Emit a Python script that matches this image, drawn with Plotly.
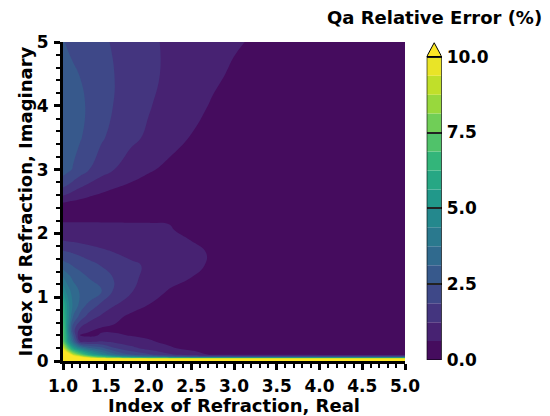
import plotly.graph_objects as go
from plotly.colors import hex_to_rgb

# Complex refractive index grid (real part along x, imaginary part along y)
n_real = [1.0, 1.03, 1.07, 1.12, 1.2, 1.3, 1.45, 1.6, 1.8, 2.0, 2.25, 2.5, 2.75, 3.0, 3.5, 4.0, 5.0]
n_imag = [0.0, 0.03, 0.06, 0.1, 0.15, 0.2, 0.3, 0.4, 0.5, 0.7, 0.9, 1.1, 1.3, 1.5, 1.7,
          1.9, 2.05, 2.15, 2.25, 2.4, 2.5, 2.6, 2.8, 3.0, 3.5, 4.0, 4.5, 5.0]

# Relative error of Qa (%), one row per imaginary-part value
qa_rel_err = [
    [20, 19, 18, 17, 16, 15, 15, 15, 15, 15, 15, 15, 15, 15, 15, 15, 15],
    [18, 17, 15.5, 14, 13, 12.5, 12, 11.8, 11.6, 11.5, 11.5, 11.5, 11.5, 11.5, 11.5, 11.5, 11.5],
    [15.5, 14.5, 13, 11.5, 10.2, 8.8, 7.4, 6.2, 5.0, 4.3, 3.6, 3.2, 3.0, 3.0, 3.0, 3.0, 3.0],
    [12.8, 12.0, 10.8, 9.0, 7.6, 6.0, 4.6, 3.4, 2.5, 2.0, 1.35, 0.9, 0.55, 0.42, 0.38, 0.36, 0.35],
    [11.0, 10.0, 8.6, 7.2, 6.0, 4.8, 3.6, 2.6, 1.9, 1.45, 1.0, 0.7, 0.4, 0.26, 0.2, 0.18, 0.16],
    [9.6, 8.5, 7.0, 5.6, 4.3, 3.3, 2.7, 1.95, 1.4, 1.05, 0.72, 0.42, 0.25, 0.17, 0.13, 0.11, 0.1],
    [7.6, 6.6, 5.0, 3.4, 1.3, 1.2, 1.3, 1.15, 0.95, 0.72, 0.45, 0.25, 0.14, 0.1, 0.07, 0.06, 0.05],
    [7.2, 6.3, 4.4, 2.6, 0.55, 0.5, 0.68, 0.7, 0.6, 0.5, 0.3, 0.17, 0.1, 0.07, 0.05, 0.04, 0.03],
    [7.1, 6.1, 3.9, 2.1, 1.15, 0.75, 0.55, 0.52, 0.45, 0.35, 0.22, 0.13, 0.08, 0.06, 0.04, 0.03, 0.02],
    [6.7, 5.7, 4.4, 3.1, 2.3, 1.65, 1.15, 0.8, 0.5, 0.35, 0.22, 0.15, 0.1, 0.08, 0.05, 0.04, 0.03],
    [6.2, 5.3, 4.4, 3.6, 3.0, 2.45, 1.8, 1.35, 0.95, 0.65, 0.4, 0.25, 0.16, 0.11, 0.07, 0.05, 0.04],
    [5.0, 4.4, 3.9, 3.45, 3.05, 2.75, 2.52, 1.78, 1.3, 0.9, 0.58, 0.37, 0.24, 0.16, 0.1, 0.07, 0.05],
    [3.85, 3.55, 3.3, 3.0, 2.75, 2.5, 2.1, 1.85, 1.4, 1.05, 0.8, 0.62, 0.45, 0.32, 0.18, 0.12, 0.08],
    [2.8, 2.7, 2.6, 2.45, 2.3, 2.1, 1.85, 1.6, 1.38, 1.15, 0.9, 0.7, 0.58, 0.42, 0.25, 0.15, 0.1],
    [2.0, 1.95, 1.9, 1.83, 1.72, 1.58, 1.4, 1.25, 1.05, 0.9, 0.78, 0.68, 0.6, 0.45, 0.27, 0.16, 0.1],
    [1.2, 1.18, 1.15, 1.12, 1.08, 1.02, 0.95, 0.88, 0.8, 0.74, 0.68, 0.62, 0.5, 0.38, 0.22, 0.14, 0.09],
    [0.85, 0.85, 0.84, 0.83, 0.81, 0.79, 0.76, 0.73, 0.7, 0.67, 0.66, 0.5, 0.38, 0.28, 0.17, 0.11, 0.07],
    [0.7, 0.7, 0.7, 0.7, 0.7, 0.7, 0.7, 0.7, 0.69, 0.68, 0.62, 0.45, 0.33, 0.25, 0.15, 0.09, 0.06],
    [0.4, 0.4, 0.4, 0.4, 0.39, 0.38, 0.37, 0.36, 0.34, 0.32, 0.28, 0.22, 0.17, 0.13, 0.08, 0.05, 0.04],
    [0.35, 0.34, 0.32, 0.3, 0.27, 0.24, 0.2, 0.17, 0.14, 0.11, 0.08, 0.06, 0.05, 0.04, 0.03, 0.02, 0.02],
    [0.68, 0.66, 0.62, 0.58, 0.5, 0.43, 0.35, 0.28, 0.22, 0.17, 0.12, 0.09, 0.07, 0.05, 0.03, 0.02, 0.02],
    [1.3, 1.24, 1.15, 1.02, 0.85, 0.7, 0.55, 0.44, 0.33, 0.25, 0.17, 0.12, 0.09, 0.07, 0.04, 0.03, 0.02],
    [2.25, 2.15, 2.0, 1.8, 1.55, 1.3, 1.0, 0.8, 0.62, 0.45, 0.3, 0.2, 0.14, 0.1, 0.06, 0.04, 0.03],
    [2.75, 2.7, 2.6, 2.45, 2.2, 1.9, 1.55, 1.25, 0.95, 0.7, 0.48, 0.32, 0.22, 0.16, 0.1, 0.06, 0.04],
    [3.0, 2.95, 2.85, 2.72, 2.55, 2.3, 1.95, 1.68, 1.38, 1.15, 0.85, 0.6, 0.42, 0.3, 0.18, 0.11, 0.06],
    [3.05, 3.0, 2.92, 2.8, 2.62, 2.42, 2.1, 1.85, 1.55, 1.3, 1.0, 0.78, 0.58, 0.45, 0.28, 0.18, 0.1],
    [2.85, 2.8, 2.72, 2.62, 2.48, 2.32, 2.08, 1.88, 1.62, 1.4, 1.12, 0.9, 0.72, 0.56, 0.36, 0.24, 0.13],
    [2.55, 2.48, 2.38, 2.28, 2.15, 2.02, 1.95, 1.83, 1.52, 1.36, 1.15, 0.95, 0.78, 0.68, 0.46, 0.29, 0.16],
]

# Contour levels and colorbar ticks
level_start = 0.0
level_end = 10.0
level_step = 0.625
cbar_ticks = [0.0, 2.5, 5.0, 7.5, 10.0]

VIRIDIS = ['#440154', '#482878', '#3e4989', '#31688e', '#26828e',
           '#1f9e89', '#35b779', '#6ece58', '#b5de2b', '#fde725']


def viridis(t):
    pos = t * (len(VIRIDIS) - 1)
    i = min(int(pos), len(VIRIDIS) - 2)
    f = pos - i
    a = hex_to_rgb(VIRIDIS[i])
    b = hex_to_rgb(VIRIDIS[i + 1])
    return 'rgb(%d,%d,%d)' % tuple(round(a[j] + (b[j] - a[j]) * f) for j in range(3))


n_bands = round((level_end - level_start) / level_step)
band_colors = [viridis((k + 0.5) / n_bands) for k in range(n_bands)]
over_color = viridis(1.0)
fill_colors = band_colors + [over_color]
# plotly samples the colorscale at (k+1)/(n_levels) for the band above level k
colorscale = [[0.0, fill_colors[0]]] + [[(k + 1) / len(fill_colors), c] for k, c in enumerate(fill_colors)]

band_bases = [level_start + k * level_step for k in range(n_bands)]

FONT = dict(family='DejaVu Sans', size=17, color='black', weight='bold')
TITLE_FONT = dict(family='DejaVu Sans', size=18, color='black', weight='bold')

fig = go.Figure()

fig.add_trace(go.Contour(
    x=n_real, y=n_imag, z=qa_rel_err,
    autocontour=False,
    contours=dict(start=level_start, end=level_end, size=level_step,
                  coloring='fill', showlines=False),
    colorscale=colorscale, showscale=False,
    line=dict(width=0, smoothing=1.3),
    hoverinfo='skip',
))

# colorbar drawn as stacked bands on its own axes
fig.add_trace(go.Bar(
    x=[0] * n_bands, y=[level_step] * n_bands, base=band_bases,
    width=1, marker=dict(color=band_colors, line=dict(width=0)),
    xaxis='x2', yaxis='y2', hoverinfo='skip', showlegend=False,
))
fig.add_trace(go.Scatter(
    x=[-0.5, 0, 0.5, -0.5], y=[level_end, 10.46, level_end, level_end],
    mode='lines', fill='toself', fillcolor=over_color,
    line=dict(color='black', width=1),
    xaxis='x2', yaxis='y2', hoverinfo='skip', showlegend=False,
))

PLOT_W = 550 - 63 - 8
x_dom = [0, 342 / PLOT_W]
main_common = dict(showgrid=False, zeroline=False, tickcolor='black')

fig.update_layout(
    width=550, height=416,
    margin=dict(l=63, r=8, t=42, b=55, autoexpand=False),
    paper_bgcolor='white', plot_bgcolor='white',
    showlegend=False,
    xaxis=dict(domain=x_dom, range=[1, 5], anchor='y', tick0=1, dtick=0.5, tickformat='.1f',
               ticks='outside', ticklen=6, tickwidth=3, showline=True, linewidth=3,
               linecolor='black', tickfont=FONT, ticklabelstandoff=2,
               minor=dict(dtick=0.1, tick0=1, ticks='outside', ticklen=4, tickwidth=2,
                          tickcolor='black'),
               **main_common),
    yaxis=dict(domain=[0, 1], range=[0, 5], anchor='x', tick0=0, dtick=1,
               ticks='outside', ticklen=6, tickwidth=3, showline=True, linewidth=3,
               linecolor='black', tickfont=FONT, ticklabelstandoff=2,
               minor=dict(dtick=0.2, tick0=0, ticks='outside', ticklen=4, tickwidth=2,
                          tickcolor='black'),
               **main_common),
    xaxis3=dict(domain=x_dom, range=[1, 5], anchor='y', overlaying='x', side='bottom',
                tick0=1, dtick=0.5, ticks='inside', ticklen=6, tickwidth=3,
                showticklabels=False, showline=False,
                minor=dict(dtick=0.1, tick0=1, ticks='inside', ticklen=4, tickwidth=2,
                           tickcolor='black'),
                **main_common),
    yaxis3=dict(domain=[0, 1], range=[0, 5], anchor='x', overlaying='y', side='left',
                tick0=0, dtick=1, ticks='inside', ticklen=6, tickwidth=3,
                showticklabels=False, showline=False,
                minor=dict(dtick=0.2, tick0=0, ticks='inside', ticklen=4, tickwidth=2,
                           tickcolor='black'),
                **main_common),
    xaxis2=dict(domain=[363.7 / PLOT_W, 378.7 / PLOT_W], range=[-0.5, 0.5], anchor='y2',
                visible=False, fixedrange=True),
    yaxis2=dict(domain=[0.003, 1.0], range=[0, 10.485], anchor='x2', side='right',
                tickvals=cbar_ticks, ticktext=['%.1f' % v for v in cbar_ticks],
                ticks='inside', ticklen=15, tickwidth=1.5, tickcolor='#222222',
                showline=False, showgrid=False, zeroline=False, tickfont=FONT,
                ticklabelstandoff=4, fixedrange=True),
    shapes=[dict(type='rect', xref='x2', yref='y2', x0=-0.5, x1=0.5,
                 y0=level_start, y1=level_end, line=dict(color='black', width=1.2),
                 fillcolor='rgba(0,0,0,0)', layer='above')],
    annotations=[
        dict(text='Qa Relative Error (%)', xref='paper', yref='paper', x=1.004, y=1.078,
             xanchor='right', yanchor='middle', showarrow=False, font=TITLE_FONT),
        dict(text='Index of Refraction, Real', xref='paper', yref='paper', x=0.3565, y=-0.14,
             xanchor='center', yanchor='middle', showarrow=False, font=TITLE_FONT),
        dict(text='Index of Refraction, Imaginary', xref='paper', yref='paper', x=-0.0793, y=0.5,
             xanchor='center', yanchor='middle', textangle=-90, showarrow=False, font=TITLE_FONT),
    ],
)

fig.write_html("out.html")
